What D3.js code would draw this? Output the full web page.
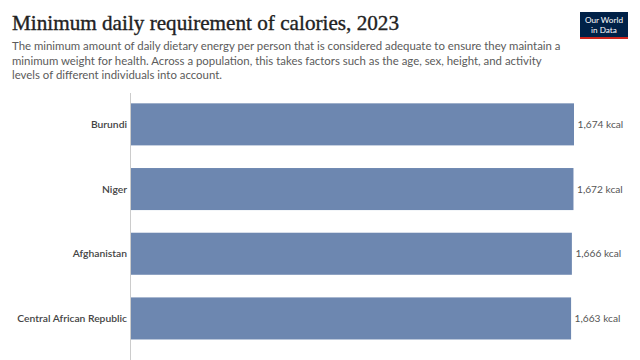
<!DOCTYPE html>
<meta charset="utf-8">
<style>
  body { margin: 0; background: #fff; }
  text { font-family: Lato, "Noto Sans", sans-serif; }
</style>
<svg width="640" height="360"></svg>
<script src="https://d3js.org/d3.v7.min.js"></script>
<script>

var countries = ["Burundi", "Niger", "Afghanistan", "Central African Republic"];
var kcal = [1674, 1672, 1666, 1663];
var subtitleLines = [
  "The minimum amount of daily dietary energy per person that is considered adequate to ensure they maintain a",
  "minimum weight for health. Across a population, this takes factors such as the age, sex, height, and activity",
  "levels of different individuals into account."
];

var svg = d3.select("svg"), width = +svg.attr("width"), height = +svg.attr("height");
var data = countries.map(function(c, i) { return { name: c, value: kcal[i] }; });

var x = d3.scaleLinear().domain([0, d3.max(kcal)]).range([130.5, 574]);
var y = d3.scaleBand().domain(countries).range([90.4, 352.4]).paddingInner(0.35).paddingOuter(0.2);

// title + subtitle
svg.append("text")
    .attr("x", 12).attr("y", 30)
    .attr("font-size", 21).attr("fill", "#222")
    .attr("textLength", 387).attr("lengthAdjust", "spacingAndGlyphs")
    .style("font-family", "'Liberation Serif', 'DejaVu Serif', serif")
    .style("stroke", "#222").style("stroke-width", 0.35)
    .text("Minimum daily requirement of calories, 2023");

svg.append("g").selectAll("text")
  .data(subtitleLines)
  .enter().append("text")
    .attr("x", 12).attr("y", function(d, i) { return 50 + i * 14.5; })
    .attr("font-size", 11.4).attr("fill", "#5b5b5b")
    .text(function(d) { return d; });

// logo
var logo = svg.append("g").attr("transform", "translate(580,12)");
logo.append("rect").attr("width", 48).attr("height", 27).attr("fill", "#002147");
logo.append("rect").attr("y", 25).attr("width", 48).attr("height", 2).attr("fill", "#ce261e");
logo.selectAll("text.l").data(["Our World", "in Data"]).enter().append("text")
    .attr("x", 24).attr("y", function(d, i) { return 11 + i * 9.5; })
    .attr("text-anchor", "middle").attr("font-size", 8.2).attr("fill", "#fff")
    .text(function(d) { return d; });

// axis line
svg.append("line")
    .attr("x1", x(0)).attr("x2", x(0))
    .attr("y1", 93).attr("y2", height)
    .attr("stroke", "#ccc").attr("stroke-width", 1);

// bars
svg.append("g").selectAll("rect")
  .data(data)
  .enter().append("rect")
    .attr("x", x(0) + 0.5)
    .attr("y", function(d) { return y(d.name); })
    .attr("width", function(d) { return x(d.value) - x(0) - 0.5; })
    .attr("height", y.bandwidth())
    .attr("fill", "#6d87b0");

// country labels
svg.append("g").selectAll("text")
  .data(data)
  .enter().append("text")
    .attr("x", 127)
    .attr("y", function(d) { return y(d.name) + y.bandwidth() / 2; })
    .attr("dy", "0.35em")
    .attr("text-anchor", "end")
    .attr("font-size", 10.3).attr("font-weight", 600).attr("fill", "#444")
    .text(function(d) { return d.name; });

// value labels
svg.append("g").selectAll("text")
  .data(data)
  .enter().append("text")
    .attr("x", function(d) { return x(d.value) + 3.5; })
    .attr("y", function(d) { return y(d.name) + y.bandwidth() / 2; })
    .attr("dy", "0.35em")
    .attr("font-size", 10.2).attr("fill", "#555")
    .text(function(d) { return d3.format(",")(d.value) + " kcal"; });

</script>
